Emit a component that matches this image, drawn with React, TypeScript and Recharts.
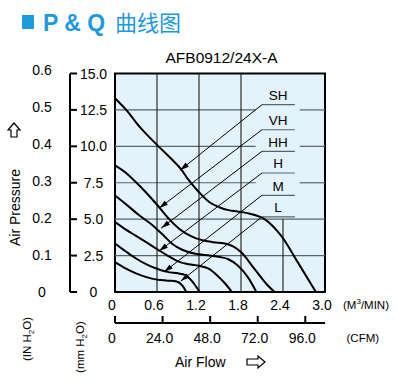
import React from 'react';
import { LineChart, Line, XAxis, YAxis, ReferenceLine, ReferenceArea, ReferenceDot } from 'recharts';

const FONT = '"Liberation Sans", Arial, Helvetica, sans-serif';
const BLUE = '#1e9ae0';

// Air flow (m3/min) / static pressure (mmH2O) curves per speed
const SH_X = [0, 0.16, 0.35, 0.61, 0.8, 0.94, 1.04, 1.2, 1.35, 1.49, 1.62, 1.75, 1.94, 2.13, 2.37, 2.61, 2.87];
const SH_Y = [13.3, 12.5, 11.35, 10.05, 9.16, 8.45, 7.76, 6.85, 6.16, 5.82, 5.62, 5.53, 5.36, 5.02, 3.88, 2.05, 0];
const VH_X = [0, 0.15, 0.3, 0.44, 0.61, 0.77, 0.92, 1.1, 1.25, 1.4, 1.6, 1.8, 1.99, 2.18, 2.28];
const VH_Y = [8.7, 8.2, 7.53, 6.85, 5.94, 5.02, 4.33, 3.8, 3.55, 3.42, 3.3, 2.74, 1.6, 0.46, 0];
const HH_X = [0, 0.15, 0.35, 0.54, 0.68, 0.82, 0.96, 1.15, 1.35, 1.5, 1.62, 1.75, 1.9, 2.02];
const HH_Y = [6.62, 6.05, 5.25, 4.57, 3.95, 3.3, 2.9, 2.62, 2.5, 2.4, 2.25, 1.83, 1.0, 0];
const H_X = [0, 0.15, 0.3, 0.45, 0.6, 0.75, 0.9, 1.05, 1.2, 1.33, 1.46, 1.57, 1.67];
const H_Y = [4.8, 4.3, 3.85, 3.4, 2.95, 2.5, 2.1, 1.9, 1.8, 1.62, 1.14, 0.6, 0];
const M_X = [0, 0.15, 0.3, 0.45, 0.6, 0.75, 0.9, 1.0, 1.1, 1.21];
const M_Y = [3.33, 2.8, 2.3, 1.9, 1.6, 1.38, 1.28, 1.18, 0.75, 0];
const L_X = [0, 0.15, 0.3, 0.45, 0.6, 0.75, 0.88, 0.96, 1.02];
const L_Y = [2.05, 1.62, 1.28, 1.02, 0.85, 0.78, 0.72, 0.45, 0];

const SERIES_NAMES = ['SH', 'VH', 'HH', 'H', 'M', 'L'];
const SERIES_X = [SH_X, VH_X, HH_X, H_X, M_X, L_X];
const SERIES_Y = [SH_Y, VH_Y, HH_Y, H_Y, M_Y, L_Y];

// annotation: underline level (mmH2O) and arrow tip (m3/min, mmH2O)
const LABEL_UNDER_Y = [12.86, 11.14, 9.66, 8.17, 6.64, 5.16];
const ARROW_X = [0.93, 0.63, 0.66, 0.63, 0.7, 0.94];
const ARROW_Y = [8.36, 5.75, 4.38, 2.81, 1.37, 0.75];
const LABEL_X0 = 2.1;
const LABEL_X1 = 2.57;
const LABEL_XC = 2.33;

const MM_TICKS = [0, 2.5, 5, 7.5, 10, 12.5, 15];
const IN_TICKS = [0, 0.1, 0.2, 0.3, 0.4, 0.5, 0.6];
const Q_TICKS = [0, 0.6, 1.2, 1.8, 2.4, 3.0];
const CFM_TICKS = [0, 24, 48, 72, 96];
const CFM_MAX = 105.944;
const H_GRID = [2.5, 5, 7.5, 10, 12.5];
const H_GRID_BROKEN = [7.5, 10, 12.5];
const V_GRID = [0.6, 1.2, 1.8];
const V_GRID_PARTIAL = [2.4];
const GAP_X0 = 2.01;
const GAP_X1 = 2.64;

const fmt = (v: number) => (v === 0 ? '0' : v.toFixed(1));

const MmTick = (p: any) => {
  const { x, y, payload } = p;
  return (
    <g>
      <line x1={x} x2={x + 7} y1={y} y2={y} stroke="#000" strokeWidth={2} />
      <text x={93.5} y={y + 5} textAnchor="middle" fontSize={14} fontFamily={FONT} fill="#000">
        {fmt(payload.value)}
      </text>
    </g>
  );
};

const InTick = (p: any) => {
  const { y, payload } = p;
  return (
    <text x={42} y={y + 5} textAnchor="middle" fontSize={14} fontFamily={FONT} fill="#000">
      {fmt(payload.value)}
    </text>
  );
};

const QTick = (p: any) => {
  const { x, y, payload } = p;
  return (
    <text x={x - 3} y={y + 18} textAnchor="middle" fontSize={14} fontFamily={FONT} fill="#000">
      {fmt(payload.value)}
    </text>
  );
};

const CfmTick = (p: any) => {
  const { x, y, payload } = p;
  return (
    <g>
      <line x1={x} x2={x} y1={y} y2={y - 7} stroke="#000" strokeWidth={2} />
      <text x={x - 3} y={y + 20} textAnchor="middle" fontSize={14} fontFamily={FONT} fill="#000">
        {fmt(payload.value)}
      </text>
    </g>
  );
};

const Leader = (p: any) => {
  let { x1, y1, x2, y2 } = p;
  if (y1 > y2) {
    [x1, y1, x2, y2] = [x2, y2, x1, y1];
  }
  const dx = x2 - x1;
  const dy = y2 - y1;
  const len = Math.sqrt(dx * dx + dy * dy) || 1;
  const ux = dx / len;
  const uy = dy / len;
  const L = 9;
  const W = 2.6;
  const bx = x2 - ux * L;
  const by = y2 - uy * L;
  const pts = `${x2},${y2} ${bx - uy * W},${by + ux * W} ${bx + uy * W},${by - ux * W}`;
  return (
    <g>
      <line x1={x1} y1={y1} x2={x2} y2={y2} stroke="#000" strokeWidth={1} />
      <polygon points={pts} fill="#000" />
    </g>
  );
};

const CFM_DUMMY = [
  { c: 0, y: 0 },
  { c: CFM_MAX, y: 0 },
];

export default function App() {
  return (
    <div style={{ position: 'absolute', left: 0, top: 0, width: 396, height: 381, background: '#fff' }}>
      <LineChart width={396} height={381} margin={{ top: 73.5, right: 71, left: 0, bottom: 38 }}>
        <XAxis
          xAxisId="xa"
          type="number"
          dataKey="x"
          domain={[0, 3]}
          ticks={Q_TICKS}
          interval={0}
          height={31}
          axisLine={false}
          tickLine={false}
          tickSize={0}
          tickMargin={0}
          tick={<QTick />}
          allowDataOverflow
        />
        <XAxis
          xAxisId="xb"
          type="number"
          dataKey="c"
          domain={[0, CFM_MAX]}
          ticks={CFM_TICKS}
          interval={0}
          height={20}
          axisLine={{ stroke: '#000', strokeWidth: 2 }}
          tickLine={false}
          tickSize={0}
          tickMargin={0}
          tick={<CfmTick />}
          allowDataOverflow
        />
        <YAxis
          yAxisId="in"
          type="number"
          domain={[0, 15 / 25.4]}
          ticks={IN_TICKS}
          interval={0}
          width={45}
          axisLine={false}
          tickLine={false}
          tickSize={0}
          tickMargin={0}
          tick={<InTick />}
          allowDataOverflow
        />
        <YAxis
          yAxisId="mm"
          type="number"
          domain={[0, 15]}
          ticks={MM_TICKS}
          interval={0}
          width={70}
          axisLine={{ stroke: '#000', strokeWidth: 2 }}
          tickLine={false}
          tickSize={0}
          tickMargin={0}
          tick={<MmTick />}
          allowDataOverflow
        />
        <ReferenceArea xAxisId="xa" yAxisId="mm" x1={0} x2={3} y1={0} y2={15} fill="#e4f2fb" fillOpacity={1} stroke="none" ifOverflow="visible" />
        {H_GRID.filter((v) => !H_GRID_BROKEN.includes(v)).map((v) => (
          <ReferenceLine key={'h' + v} xAxisId="xa" yAxisId="mm" segment={[{ x: 0, y: v }, { x: 3, y: v }]} stroke="#56646b" strokeWidth={1.2} ifOverflow="visible" />
        ))}
        {H_GRID_BROKEN.map((v) => (
          <ReferenceLine key={'hl' + v} xAxisId="xa" yAxisId="mm" segment={[{ x: 0, y: v }, { x: GAP_X0, y: v }]} stroke="#56646b" strokeWidth={1.2} ifOverflow="visible" />
        ))}
        {H_GRID_BROKEN.map((v) => (
          <ReferenceLine key={'hr' + v} xAxisId="xa" yAxisId="mm" segment={[{ x: GAP_X1, y: v }, { x: 3, y: v }]} stroke="#56646b" strokeWidth={1.2} ifOverflow="visible" />
        ))}
        {V_GRID.map((v) => (
          <ReferenceLine key={'v' + v} xAxisId="xa" yAxisId="mm" segment={[{ x: v, y: 0 }, { x: v, y: 15 }]} stroke="#1a1a1a" strokeWidth={1.1} ifOverflow="visible" />
        ))}
        {V_GRID_PARTIAL.map((v) => (
          <ReferenceLine key={'vp' + v} xAxisId="xa" yAxisId="mm" segment={[{ x: v, y: 0 }, { x: v, y: 5 }]} stroke="#1a1a1a" strokeWidth={1.1} ifOverflow="visible" />
        ))}
        {SERIES_NAMES.map((n, i) => (
          <ReferenceLine key={'u' + n} xAxisId="xa" yAxisId="mm" segment={[{ x: LABEL_X0, y: LABEL_UNDER_Y[i] }, { x: LABEL_X1, y: LABEL_UNDER_Y[i] }]} stroke="#56646b" strokeWidth={1.2} ifOverflow="visible" />
        ))}
        {SERIES_NAMES.map((n, i) => (
          <ReferenceLine key={'l' + n} xAxisId="xa" yAxisId="mm" segment={[{ x: LABEL_X0, y: LABEL_UNDER_Y[i] }, { x: ARROW_X[i], y: ARROW_Y[i] }]} shape={<Leader />} ifOverflow="visible" />
        ))}
        {SERIES_NAMES.map((n, i) => (
          <ReferenceDot
            key={'t' + n}
            xAxisId="xa"
            yAxisId="mm"
            x={LABEL_XC}
            y={LABEL_UNDER_Y[i]}
            r={0}
            ifOverflow="visible"
            shape={(p: any) => (
              <text x={p.cx} y={p.cy - 4.5} textAnchor="middle" fontSize={13.5} fontFamily={FONT} fill="#000">
                {n}
              </text>
            )}
          />
        ))}
        <Line
          xAxisId="xb"
          yAxisId="mm"
          data={CFM_DUMMY}
          dataKey="y"
          stroke="none"
          strokeOpacity={0}
          dot={false}
          activeDot={false}
          legendType="none"
          isAnimationActive={false}
        />
        {SERIES_NAMES.map((n, i) => (
          <Line
            key={n}
            xAxisId="xa"
            yAxisId="mm"
            data={SERIES_X[i].map((x, j) => ({ x, y: SERIES_Y[i][j] }))}
            dataKey="y"
            type="monotone"
            stroke="#000"
            strokeWidth={2}
            dot={false}
            activeDot={false}
            isAnimationActive={false}
          />
        ))}
        <ReferenceArea xAxisId="xa" yAxisId="mm" x1={0} x2={3} y1={0} y2={15} fill="none" stroke="#000" strokeWidth={2} ifOverflow="visible" />
      </LineChart>
      <svg width={396} height={381} style={{ position: 'absolute', left: 0, top: 0, pointerEvents: 'none' }}>
        <rect x={22} y={15} width={12} height={14} fill={BLUE} />
        <text x={43} y={31} fill={BLUE} fontFamily={FONT} fontSize={23} fontWeight="bold">P &amp; Q</text>
        <text x={115} y={31} fill={BLUE} fontFamily='"Noto Sans CJK SC", sans-serif' fontSize={22}>曲线图</text>
        <text x={221.5} y={63} textAnchor="middle" fontFamily={FONT} fontSize={15.5} fill="#000">AFB0912/24X-A</text>
        <polygon points="14,123 20,130 17,130 17,137 11,137 11,130 8,130" fill="#fff" stroke="#000" strokeWidth={1.2} />
        <text x={20} y={207.5} transform="rotate(-90, 20, 207.5)" textAnchor="middle" fontFamily={FONT} fontSize={14} fill="#000">Air Pressure</text>
        <text x={31} y={339} transform="rotate(-90, 31, 339)" textAnchor="middle" fontFamily={FONT} fontSize={11.5} fill="#000">
          (IN H<tspan fontSize={8} dy={3}>2</tspan><tspan dy={-3}>O)</tspan>
        </text>
        <text x={84} y={347} transform="rotate(-90, 84, 347)" textAnchor="middle" fontFamily={FONT} fontSize={11.5} fill="#000">
          (mm H<tspan fontSize={8} dy={3}>2</tspan><tspan dy={-3}>O)</tspan>
        </text>
        <text x={343} y={309} fontFamily={FONT} fontSize={11.5} fill="#000">
          (M<tspan fontSize={8} dy={-5}>3</tspan><tspan dy={5}>/MIN)</tspan>
        </text>
        <text x={346.5} y={341.5} fontFamily={FONT} fontSize={11.5} fill="#000">(CFM)</text>
        <text x={175} y={366.5} fontFamily={FONT} fontSize={14} fill="#000">Air Flow</text>
        <polygon points="265,362 258,356 258,359 247,359 247,365 258,365 258,368" fill="#fff" stroke="#000" strokeWidth={1.2} />
      </svg>
    </div>
  );
}
